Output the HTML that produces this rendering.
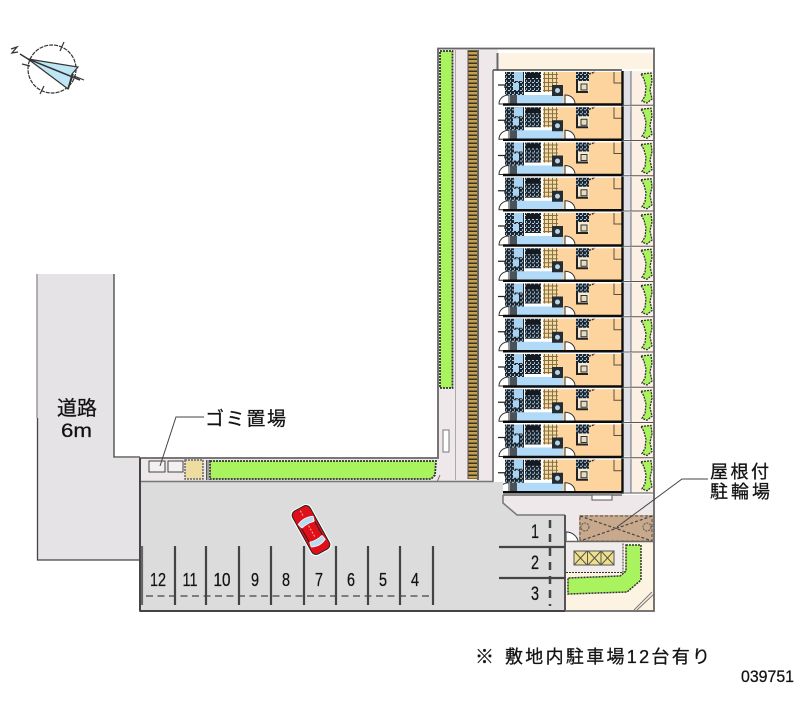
<!DOCTYPE html>
<html lang="ja">
<head>
<meta charset="utf-8">
<title>Site plan</title>
<style>
html,body{margin:0;padding:0;background:#fff;width:800px;height:727px;overflow:hidden}
svg{display:block;filter:blur(.35px)}
text{font-family:"Liberation Sans","Noto Sans CJK JP",sans-serif;fill:#111;stroke:#222;stroke-width:.3px}
</style>
</head>
<body>
<svg width="800" height="727" viewBox="0 0 800 727" xmlns="http://www.w3.org/2000/svg">
<defs>
<pattern id="dk" width="4" height="4" patternUnits="userSpaceOnUse">
<rect width="4" height="4" fill="#1c2630"/>
<rect x="0" y="0" width="2" height="1" fill="#b8cede"/>
<rect x="2" y="2" width="1" height="2" fill="#8fb0c8"/>
</pattern>
<pattern id="st" width="4" height="4" patternUnits="userSpaceOnUse">
<rect width="4" height="4" fill="#f4dca6"/>
<path d="M0 .5H4M.5 0V4" stroke="#8a6f42" stroke-width="1"/>
</pattern>
<pattern id="tr" width="9" height="4" patternUnits="userSpaceOnUse">
<rect width="9" height="4" fill="#c4a050"/>
<rect y="2.500" width="9" height="1.500" fill="#3e3220"/>
</pattern>
<g id="u">
<rect x="503" y="1" width="119" height="33" fill="#fff"/>
<rect x="558" y="2" width="64" height="32" fill="#fdd49e"/>
<path d="M614 2v11h8" fill="#fdd49e" stroke="#5a5040" stroke-width="1"/>
<rect x="543" y="2" width="15" height="20" fill="url(#st)"/>
<rect x="576" y="2" width="13" height="20" fill="#f7ead2"/>
<rect x="576" y="2" width="13" height="9" fill="url(#dk)"/>
<path d="M577 11V22H588" fill="none" stroke="#222" stroke-width="2"/>
<path d="M581 14h6v6h-6z" fill="#e8dcc0" stroke="#333" stroke-width="1"/>
<path d="M589 4l6 -2" stroke="#333" stroke-width="1.500" stroke-dasharray="2 1"/>
<rect x="517" y="25" width="46" height="9" fill="#b0daf7"/>
<rect x="510" y="25" width="7" height="9" fill="#1c2630" opacity=".8"/>
<rect x="505" y="2" width="19" height="23" fill="url(#dk)"/>
<rect x="514" y="2" width="9" height="9" fill="#a9d3f2"/>
<rect x="513" y="13" width="6" height="7" fill="#a9d3f2"/>
<rect x="525" y="2" width="16" height="20" fill="url(#dk)"/>
<rect x="526" y="3" width="14" height="5" fill="#141a20"/>
<rect x="552" y="15" width="11" height="11" fill="#232d36"/>
<circle cx="557.500" cy="20.500" r="2.500" fill="#bcd3e2"/>
<path d="M499 34c0-5 4-9 10-9v9zM565 25c6 0 10 4 10 9h-10z" fill="#fff" stroke="#333" stroke-width="1"/>
<path d="M498 15h7v3" fill="none" stroke="#222" stroke-width="1.300"/>
<path d="M503 34.500H622" stroke="#0c0c0c" stroke-width="2.400"/>
<path d="M622.500 1V36" stroke="#0c0c0c" stroke-width="2.400"/>
<rect x="624" y="1" width="7" height="33" fill="#dfe0e8"/>
<path d="M631 1V35" stroke="#666" stroke-width="1"/>
<rect x="632" y="1" width="21" height="34" fill="#fcefe4"/>
<path d="M641 4l10-1 1 8-2 9 2 9-5 4-5-2 3-5 1-9-2-8z" fill="#a9f45e" stroke="#333" stroke-width="1.300" stroke-dasharray="2 1"/>
<path d="M622 35.200H654" stroke="#555" stroke-width="1"/>
</g>
</defs>

<!-- road -->
<path d="M37 274H114V458H140V560H37Z" fill="#e6e3e6"/>
<path d="M37 274V418" stroke="#999" stroke-width="1.500"/>
<path d="M37.500 418V560H140M114 274V457H140" fill="none" stroke="#444" stroke-width="1.300"/>

<!-- site base -->
<rect x="439" y="49" width="59" height="433" fill="#eee8ea"/>
<rect x="141" y="459" width="298" height="23" fill="#eee8ea"/>
<rect x="494" y="495" width="160" height="116" fill="#eee8ea"/>

<!-- green strip vertical -->
<rect x="440" y="51" width="12.500" height="337" fill="#a9f45e" stroke="#333" stroke-width="1.800" stroke-dasharray="2 1"/>
<path d="M455.500 50V480" stroke="#aaa" stroke-width="1"/>
<rect x="468" y="50" width="9" height="429" fill="url(#tr)"/>
<path d="M468 50V479" stroke="#555" stroke-width="1"/>
<rect x="477" y="50" width="2" height="430" fill="#666"/>
<rect x="443" y="430" width="6" height="22" fill="#fff" stroke="#777" stroke-width="1"/>

<!-- top beige -->
<rect x="499" y="53" width="154" height="16" fill="#fdf3e3"/>
<rect x="494" y="70" width="9" height="425" fill="#fff"/>

<!-- units -->
<use href="#u" y="70"/>
<use href="#u" y="105.250"/>
<use href="#u" y="140.500"/>
<use href="#u" y="175.750"/>
<use href="#u" y="211"/>
<use href="#u" y="246.250"/>
<use href="#u" y="281.500"/>
<use href="#u" y="316.750"/>
<use href="#u" y="352"/>
<use href="#u" y="387.250"/>
<use href="#u" y="422.500"/>
<use href="#u" y="457.750"/>

<path d="M497.500 53V70" stroke="#666" stroke-width="2"/>
<path d="M493 70H622" stroke="#444" stroke-width="1.500"/>
<path d="M493 70V495H622" fill="none" stroke="#666" stroke-width="1.500"/>
<path d="M592 495h20v5h-20z" fill="#fff" stroke="#555" stroke-width="1"/>

<!-- parking lot -->
<path d="M141 482H503V503L517 515H565V610H141Z" fill="#dcdcdc"/>
<path d="M141 481.500H493" stroke="#777" stroke-width="1.500"/>
<path d="M503 495V503L517 515H565" fill="none" stroke="#777" stroke-width="1.500"/>

<!-- bottom right block -->
<rect x="566" y="542" width="87" height="68" fill="#fdf3e3"/>
<rect x="566" y="543" width="57" height="29" fill="#f0ecec"/>
<path d="M566 572.500H623V543" fill="none" stroke="#333" stroke-width="1" stroke-dasharray="2 1"/>
<rect x="574" y="551" width="40" height="14" fill="#f0e08c" stroke="#555" stroke-width="1"/>
<path d="M587.500 551V565M601 551V565M574 551l13 14M587 551l-13 14M588 551l13 14M601 551l-13 14M601 551l13 14M614 551l-13 14" stroke="#555" stroke-width="1"/>
<path d="M626 545H641V580L627 592L568 594V578L620 576L626 571Z" fill="#a9f45e" stroke="#333" stroke-width="1.500" stroke-dasharray="2 1"/>
<path d="M634 610L652 592M637 610L654 594" stroke="#777" stroke-width="1"/>

<!-- bike shelter -->
<rect x="579" y="515" width="74" height="26" fill="#c9a98c"/>
<path d="M580 516H652V541H580Z" fill="none" stroke="#555" stroke-width="1" stroke-dasharray="3 2"/>
<path d="M580 516L652 541M652 516L580 541" stroke="#444" stroke-width="1.200" stroke-dasharray="3 2"/>
<circle cx="585" cy="527" r="4" fill="none" stroke="#555" stroke-width="1" stroke-dasharray="2 1"/>
<circle cx="647" cy="527" r="4" fill="none" stroke="#555" stroke-width="1" stroke-dasharray="2 1"/>
<path d="M566 541V532c6 0 11 4 12 9" fill="#fff" stroke="#333" stroke-width="1"/>
<path d="M566 541.500H653" stroke="#666" stroke-width="1.500"/>
<path d="M565 515V611" stroke="#555" stroke-width="2"/>

<!-- garbage and green strip -->
<rect x="149" y="461" width="16" height="11" fill="#f3f0f0" stroke="#444" stroke-width="1"/>
<rect x="168" y="461" width="15" height="11" fill="#f3f0f0" stroke="#444" stroke-width="1"/>
<rect x="185" y="460" width="18" height="19" fill="#efdca0" stroke="#666" stroke-width="1.500" stroke-dasharray="2 1"/>
<path d="M206.500 460V480M208 460V480" stroke="#555" stroke-width="1"/>
<path d="M210 461H436L435 475L431 479H210Z" fill="#a9f45e" stroke="#333" stroke-width="1.800" stroke-dasharray="2 1"/>

<!-- site outlines -->
<path d="M140 458H438V48.500H654V611H140Z" fill="none" stroke="#666" stroke-width="1.800"/>
<path d="M140 458V611" stroke="#444" stroke-width="2"/>
<path d="M140 611H565" stroke="#444" stroke-width="2"/>
<path d="M437 482L440 475" stroke="#777" stroke-width="1"/>

<!-- stalls -->
<g stroke="#444" stroke-width="2.200">
<path d="M175 546V605M206 546V605M239 546V605M271 546V605M304 546V605M336 546V605M368 546V605M400 546V605M433 546V605"/>
<path d="M142 546V605" stroke="#666"/>
<path d="M499 547H565M499 578H565"/>
</g>
<path d="M146 596H431" stroke="#444" stroke-width="1.300" stroke-dasharray="7 4.500"/>
<path d="M550 520V606" stroke="#444" stroke-width="2.500" stroke-dasharray="8 6"/>

<g font-size="18" text-anchor="middle">
<text x="158" y="586" textLength="16" lengthAdjust="spacingAndGlyphs">12</text>
<text x="190" y="586" textLength="15" lengthAdjust="spacingAndGlyphs">11</text>
<text x="222" y="586" textLength="17" lengthAdjust="spacingAndGlyphs">10</text>
<text x="255" y="586" textLength="8" lengthAdjust="spacingAndGlyphs">9</text>
<text x="286" y="586" textLength="8" lengthAdjust="spacingAndGlyphs">8</text>
<text x="319" y="586" textLength="8" lengthAdjust="spacingAndGlyphs">7</text>
<text x="351" y="586" textLength="8" lengthAdjust="spacingAndGlyphs">6</text>
<text x="383" y="586" textLength="8" lengthAdjust="spacingAndGlyphs">5</text>
<text x="415" y="586" textLength="8" lengthAdjust="spacingAndGlyphs">4</text>
<text x="535" y="538" textLength="8" lengthAdjust="spacingAndGlyphs" font-size="19">1</text>
<text x="535" y="569" textLength="8" lengthAdjust="spacingAndGlyphs" font-size="19">2</text>
<text x="535" y="600" textLength="8" lengthAdjust="spacingAndGlyphs" font-size="19">3</text>
</g>

<!-- car -->
<g transform="translate(311 530) rotate(-29)">
<rect x="-11.500" y="-26" width="23" height="52" rx="6" fill="#fff"/>
<rect x="-10" y="-24.500" width="20" height="49" rx="5" fill="#e0101a" stroke="#222" stroke-width="1"/>
<path d="M-8.500 -11Q0 -15 8.500 -11L7 -6Q0 -8 -7 -6Z" fill="#b6dcf2" stroke="#fff" stroke-width=".8"/>
<path d="M-8 15Q0 19 8 15L7 10Q0 12 -7 10Z" fill="#b6dcf2" stroke="#fff" stroke-width=".8"/>
<path d="M-7.500 -6V10M7.500 -6V10" stroke="#222" stroke-width="1"/>
<path d="M0 -5V9M0 -22V-16" stroke="#ffb0b0" stroke-width="1" stroke-dasharray="2 1.500"/>
</g>

<!-- leaders -->
<path d="M204 417H176L160 466" fill="none" stroke="#444" stroke-width="1"/>
<path d="M708 479H682L617 527" fill="none" stroke="#444" stroke-width="1"/>

<!-- labels -->
<text x="205" y="425" font-size="19" textLength="81" lengthAdjust="spacing">ゴミ置場</text>
<text x="710" y="478" font-size="18" textLength="59" lengthAdjust="spacing">屋根付</text>
<text x="710" y="498" font-size="18" textLength="60" lengthAdjust="spacing">駐輪場</text>
<text x="57" y="415" font-size="20" textLength="40" lengthAdjust="spacing">道路</text>
<text x="61" y="437" font-size="19" textLength="31" lengthAdjust="spacingAndGlyphs">6m</text>
<text x="475" y="663" font-size="19">※</text>
<text x="505" y="663" font-size="18" textLength="205" lengthAdjust="spacing">敷地内駐車場12台有り</text>
<text x="741" y="682" font-size="17" textLength="53" lengthAdjust="spacingAndGlyphs" fill="#333">039751</text>

<!-- compass -->
<g fill="none" stroke="#333" stroke-width="1.200">
<circle cx="52" cy="69" r="24" stroke-dasharray="4 1"/>
<path d="M28 59L78 67L72 74L68 89Z" fill="#bfe6f5"/>
<path d="M20 54L28 59L80 80" stroke-width="1.500"/>
<path d="M68 89L73 74" stroke-width="1.800"/>
<path d="M64 42L60 51M40 94L44 86M84 80L74 76M22 64L30 66"/>
<path d="M11 49L17 47L12 53L18 52" stroke-width="1.300"/>
</g>
</svg>
</body>
</html>
